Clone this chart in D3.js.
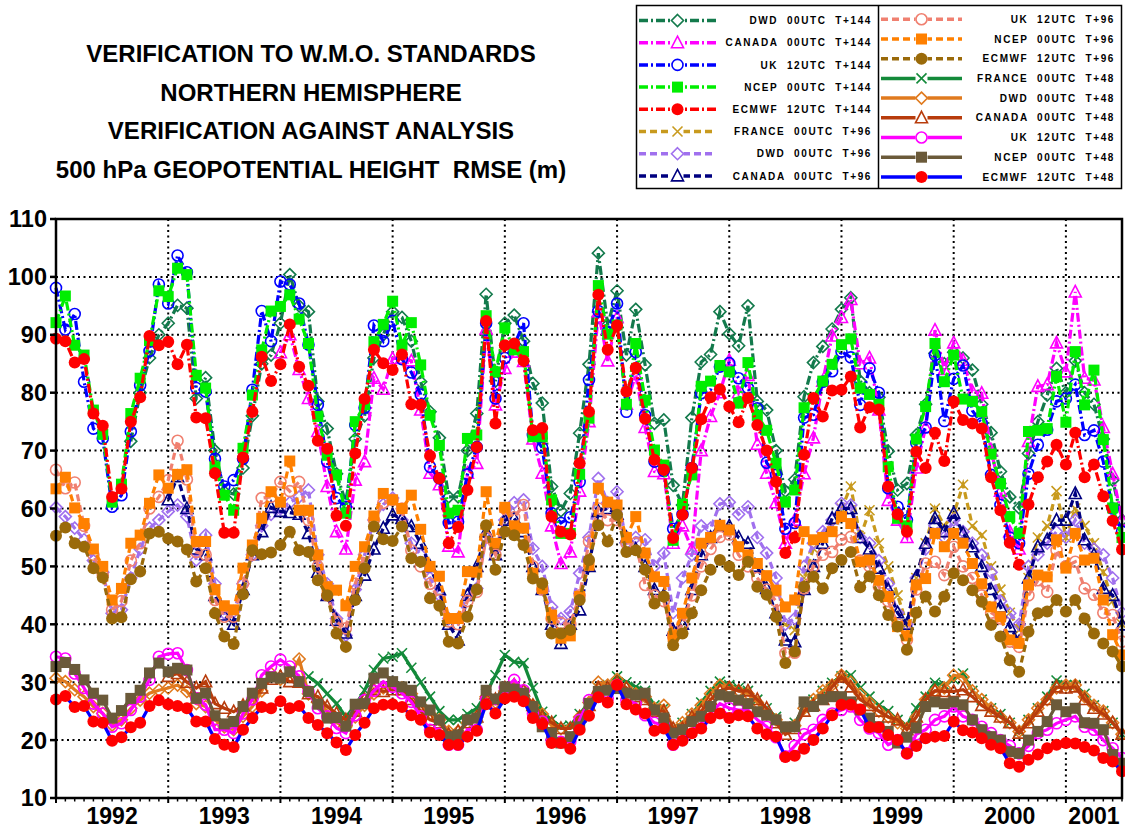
<!DOCTYPE html>
<html>
<head>
<meta charset="utf-8">
<title>Verification to W.M.O. standards - 500 hPa RMSE</title>
<script src="https://cdnjs.cloudflare.com/ajax/libs/d3/7.8.5/d3.min.js"></script>
<style>
  body { margin: 0; background: #fff; }
  text { font-family: "Liberation Sans", Arial, sans-serif; font-weight: bold; }
</style>
</head>
<body>
<div id="vis"></div>
<script>
// months counted from Jan 1992 (0) to Jul 2001 (114)
var nMonths = 115;
var years = [1992, 1993, 1994, 1995, 1996, 1997, 1998, 1999, 2000, 2001];
var yTicks = [10, 20, 30, 40, 50, 60, 70, 80, 90, 100, 110];
var titleLines = ["VERIFICATION TO W.M.O. STANDARDS", "NORTHERN HEMISPHERE",
  "VERIFICATION AGAINST ANALYSIS", "500 hPa GEOPOTENTIAL HEIGHT  RMSE (m)"];

// ---- T+144 ----
var dwdT144 = [ // from Sep 1992
  71.6,80.0,86.0,90.0,
  92.0,95.1,94.6,79.0,82.6,70.0,62.9,62.5,67.0,76.0,85.0,86.5,
  92.0,100.4,95.0,94.0,78.5,73.8,66.0,61.0,72.0,76.0,86.0,90.0,
  94.0,93.0,88.9,81.9,76.7,72.2,62.0,62.0,70.0,76.4,97.0,82.0,
  92.0,93.4,88.9,81.6,78.2,63.8,59.6,62.6,73.0,84.9,104.1,91.7,
  97.6,86.5,94.4,84.8,74.7,75.3,64.0,60.6,75.7,85.3,86.6,94.0,
  90.2,88.1,95.0,78.5,77.0,70.0,63.0,65.0,79.3,85.2,88.0,91.0,
  94.4,96.4,82.0,80.0,79.2,69.9,63.2,64.3,72.7,78.0,86.8,85.0,
  87.0,86.0,83.9,78.0,73.1,66.4,62.0,60.1,69.5,75.0,79.6,84.2,
  80.0,85.5,80.0,78.0,72.0,64.9,58.0];
var canadaT144 = [ // from Jan 1994
  86.9,90.0,84.0,79.0,73.3,63.8,56.0,53.0,64.9,68.1,82.5,80.6,
  85.9,86.0,85.5,77.0,66.1,64.1,53.5,52.5,66.1,67.8,91.0,77.9,
  84.2,87.0,85.4,72.0,66.1,57.0,50.5,52.5,63.0,75.0,94.0,85.5,
  93.0,78.0,83.1,74.0,66.4,66.0,54.0,57.0,53.0,70.0,75.9,80.0,
  85.6,80.0,83.0,71.1,66.1,61.0,54.0,58.0,66.0,72.2,82.0,89.8,
  93.0,96.1,85.0,86.0,77.0,61.4,58.0,55.0,67.0,74.0,90.8,84.0,
  88.6,85.6,80.2,79.9,70.0,63.0,56.0,53.0,71.6,81.1,81.4,88.6,
  83.6,97.4,82.5,82.2,74.0,66.0,58.0];
var ukT144 = [
  98.1,90.9,93.6,81.9,73.8,72.1,60.3,62.3,73.3,81.3,87.2,98.7,
  95.4,103.7,100.8,80.8,80.2,68.6,63.8,64.9,68.6,80.5,94.1,88.9,
  99.2,98.7,95.4,88.3,77.9,68.1,61.8,60.3,74.4,77.4,91.6,88.9,
  92.4,85.8,83.5,79.7,67.2,65.2,57.5,57.7,65.9,70.6,92.0,79.0,
  86.0,88.2,92.0,72.7,70.5,59.2,57.5,58.5,64.6,82.2,94.1,90.5,
  95.4,76.7,87.0,76.1,68.1,66.5,56.5,59.0,67.0,79.9,80.5,84.5,
  85.1,82.5,80.8,77.3,67.9,65.8,56.5,57.5,75.7,76.2,81.9,83.7,
  87.1,86.1,77.9,84.2,80.0,63.5,60.3,58.0,71.3,74.0,86.5,75.1,
  82.4,84.7,76.9,74.7,65.8,60.6,55.0,54.0,66.0,71.0,73.6,78.5,
  79.0,81.4,72.7,73.5,68.1,60.0,56.0];
var ncepT144 = [
  92.1,96.7,88.2,86.5,77.0,72.8,61.1,64.2,76.4,82.5,89.0,97.6,
  96.6,101.5,100.4,83.0,80.8,67.2,62.3,59.7,70.4,79.6,87.4,94.1,
  94.9,96.9,92.7,88.5,75.9,69.2,65.8,59.2,75.0,77.9,88.8,91.8,
  95.8,88.2,92.1,84.8,76.1,70.9,59.2,59.7,72.1,72.7,93.3,83.6,
  91.2,87.4,87.1,72.4,72.4,61.5,55.7,55.7,65.9,75.6,98.5,90.1,
  91.7,78.0,88.5,78.7,70.1,67.5,54.5,60.7,65.8,81.1,82.0,84.7,
  83.6,78.2,85.2,76.1,73.5,67.8,61.1,63.2,77.4,79.0,82.0,84.9,
  88.3,89.3,80.8,79.7,78.0,67.2,58.3,57.0,72.0,77.6,88.5,81.9,
  86.5,78.9,78.5,76.7,69.4,64.3,58.6,55.7,73.3,73.5,73.8,82.8,
  74.9,87.1,77.9,83.9,71.9,60.1,55.0];
var ecmwfT144 = [
  89.3,88.9,85.2,85.8,76.4,74.3,62.0,63.4,75.0,79.2,89.8,88.2,
  88.8,84.9,88.3,75.7,75.6,66.1,55.8,55.8,68.8,76.7,86.2,82.0,
  84.9,91.8,84.5,81.2,71.7,70.3,58.8,57.0,69.5,78.9,87.4,85.1,
  83.9,86.6,78.0,77.9,69.1,65.2,54.0,56.8,63.2,70.6,92.4,74.7,
  88.2,88.5,85.5,73.5,73.9,58.6,56.0,55.5,67.8,76.7,96.9,87.4,
  91.6,80.2,84.3,75.5,68.4,66.7,54.9,58.9,67.0,75.4,79.2,80.6,
  77.6,74.9,79.1,74.4,70.0,64.6,52.3,55.0,69.3,79.1,75.9,80.4,
  80.5,82.8,74.0,77.5,77.1,63.8,59.0,56.0,69.8,67.0,73.1,68.2,
  78.5,75.3,74.7,73.8,65.4,59.7,54.1,50.3,60.7,65.4,68.1,71.0,
  67.6,73.1,65.4,67.6,62.1,57.9,52.9];

// ---- T+96 ----
var franceT96 = [ // from Jul 1998
  40.0,39.0,48.0,53.1,55.0,57.0,
  60.0,63.8,55.0,59.7,54.0,50.0,45.0,40.0,48.0,54.0,60.0,57.0,
  59.0,64.1,57.0,55.4,50.0,46.0,42.0,39.0,48.0,55.0,57.0,63.0,
  55.0,60.0,57.0,54.0,49.0,44.0,40.0];
var dwdT96 = [
  60.2,58.6,56.6,54.6,51.0,49.0,41.9,42.5,48.0,53.0,56.6,58.0,
  59.5,60.6,58.6,51.1,55.4,47.0,41.9,42.2,47.0,52.0,57.0,59.0,
  60.0,61.0,62.0,63.2,52.0,47.0,41.0,38.1,46.0,52.0,58.0,60.7,
  61.8,58.0,54.0,52.0,48.0,45.0,41.0,41.0,45.0,46.2,55.0,53.0,
  58.0,61.0,61.5,53.1,50.0,43.0,41.0,42.2,48.8,55.0,65.2,61.0,
  62.9,54.0,55.0,54.6,50.0,52.3,42.0,48.0,52.0,57.0,56.6,60.8,
  61.1,59.0,60.3,55.0,52.3,48.0,40.0,41.0,50.0,54.0,56.0,58.0,
  60.9,60.6,55.0,54.0,51.0,47.0,42.0,40.0,48.0,53.0,57.0,55.0,
  58.0,56.0,54.0,52.0,49.0,44.0,41.9,40.0,50.0,52.0,54.0,56.0,
  55.0,58.0,54.0,53.0,52.0,48.0,42.0];
var canadaT96 = [ // from Jan 1993
  61.5,65.5,60.0,53.0,52.0,45.0,41.6,40.0,46.0,52.0,56.0,60.2,
  59.5,59.3,59.0,55.7,49.0,45.0,40.7,38.5,45.0,48.5,53.0,56.6,
  58.9,58.3,56.9,54.0,50.0,46.0,40.0,37.3,45.0,50.0,56.0,52.0,
  58.0,58.3,56.0,50.0,46.0,40.0,36.7,40.0,42.5,50.0,59.5,60.0,
  59.0,55.0,53.0,50.0,46.0,45.0,39.0,40.0,46.0,52.0,55.0,57.0,
  57.0,55.0,54.0,50.0,46.2,42.0,37.3,37.0,46.0,50.0,54.0,58.3,
  60.0,60.0,55.0,53.0,49.7,46.0,42.0,40.0,48.2,54.0,58.3,56.0,
  59.2,55.7,53.4,50.0,46.0,43.0,39.6,37.0,48.0,53.4,54.6,58.0,
  58.0,62.6,54.6,52.0,46.2,45.0,39.9];
var ukT96 = [
  66.7,63.5,64.5,57.0,52.0,48.5,42.5,44.0,51.0,54.0,60.0,62.0,
  64.9,71.7,65.0,52.5,52.0,44.2,41.3,41.3,47.0,52.0,61.8,62.0,
  64.6,63.0,64.6,58.0,50.0,45.0,40.4,39.3,47.0,52.0,58.0,61.0,
  61.5,60.0,52.8,50.0,47.0,44.2,40.5,40.0,44.0,45.6,55.0,52.0,
  60.0,58.5,60.6,50.0,46.0,41.0,40.2,40.0,45.0,54.3,60.0,58.0,
  58.0,54.0,54.0,46.8,45.0,44.0,37.9,40.0,45.0,50.0,53.0,55.1,
  55.5,52.0,50.0,48.0,46.0,44.0,35.0,35.1,46.2,50.0,52.0,52.5,
  54.6,55.1,51.0,50.0,46.5,44.0,40.0,37.3,46.0,50.5,50.8,48.5,
  53.4,50.0,48.0,45.0,42.0,41.0,37.0,36.1,45.0,47.6,45.6,52.8,
  50.0,50.8,46.2,45.1,42.0,41.6,37.0];
var ncepT96 = [
  63.4,65.4,60.1,57.4,53.0,50.0,44.2,46.2,54.0,55.4,60.9,65.8,
  63.5,65.9,66.7,54.3,54.3,46.0,43.2,42.5,49.7,53.7,58.3,62.9,
  61.1,68.2,59.7,59.7,52.0,46.5,45.9,43.2,50.0,53.4,58.7,62.6,
  61.5,60.0,62.3,56.4,50.0,48.3,41.0,41.0,49.1,49.0,62.9,54.0,
  60.2,57.0,56.6,48.8,46.2,41.6,37.6,38.0,44.8,50.2,63.5,61.1,
  60.6,55.0,58.6,52.3,48.2,47.4,37.9,41.9,48.0,54.0,55.0,57.1,
  56.3,53.4,52.0,50.5,48.4,45.9,43.0,44.2,56.0,54.6,55.0,56.0,
  58.6,57.4,50.8,51.1,47.6,44.8,39.6,38.0,46.8,47.9,55.7,53.4,
  55.7,54.0,50.5,47.0,43.0,41.3,37.3,36.7,46.8,48.5,48.2,54.6,
  49.7,55.7,51.1,51.4,44.2,38.2,34.7];
var ecmwfT96 = [
  55.3,56.7,54.0,53.4,49.7,48.1,41.0,41.2,47.8,49.1,55.7,56.0,
  54.8,54.3,52.9,47.4,49.7,41.9,37.9,36.6,45.2,52.8,52.1,52.4,
  53.7,56.0,52.8,52.5,47.6,45.0,38.4,36.1,44.2,49.7,56.9,54.7,
  54.4,56.9,51.4,50.8,44.5,43.2,37.0,36.7,41.3,46.0,57.1,49.4,
  56.0,55.4,53.7,47.9,47.1,38.4,38.4,39.0,44.2,51.1,57.1,54.3,
  58.9,52.5,52.8,49.4,43.6,44.8,36.4,38.4,41.9,45.9,49.4,51.1,
  50.0,48.5,50.8,46.5,45.1,41.3,33.3,35.3,46.5,48.2,46.2,49.7,
  51.1,52.5,46.4,48.3,45.0,41.6,39.6,35.6,42.0,44.8,42.2,44.8,
  48.8,47.6,45.9,43.9,39.9,37.9,33.8,31.8,38.7,41.9,42.2,44.2,
  42.2,44.2,41.0,38.4,36.7,35.3,32.7];

// ---- T+48 ----
var franceT48 = [ // from Apr 1994
  31.0,29.8,28.0,26.3,24.0,26.0,28.6,32.1,34.1,
  34.4,35.0,32.5,30.0,27.5,25.0,23.5,23.5,24.5,25.5,28.0,31.2,
  34.7,33.5,33.3,29.0,24.9,23.5,22.3,22.5,24.5,26.5,29.0,29.5,
  31.0,30.0,29.2,28.5,26.0,25.5,22.0,23.0,24.5,26.5,28.5,30.1,
  29.5,29.0,28.5,27.0,25.5,24.0,22.0,23.0,25.5,27.0,28.5,29.9,
  31.0,31.2,29.0,27.5,26.0,25.0,23.5,22.5,25.5,27.5,29.9,29.5,
  30.5,31.5,28.5,27.0,25.5,24.5,23.0,21.5,23.5,25.5,27.5,30.3,
  29.5,29.5,28.0,26.0,25.0,23.0,21.0];
var dwdT48 = [
  30.7,30.1,28.7,27.5,25.8,24.6,22.6,23.5,25.5,26.9,28.1,28.6,
  29.0,29.5,28.4,26.3,25.8,23.5,22.3,21.8,24.1,25.8,28.5,31.5,
  30.5,31.0,34.0,28.0,26.5,25.0,23.0,22.3,24.0,26.0,28.0,29.0,
  29.5,29.0,28.0,26.0,24.5,23.5,21.5,21.5,23.0,24.0,27.5,26.5,
  28.5,29.0,28.5,26.0,24.5,22.5,22.0,22.0,24.0,26.5,30.0,29.5,
  30.5,29.0,28.0,27.5,25.5,26.0,22.0,23.0,24.5,26.0,28.0,29.5,
  29.0,28.5,28.0,26.5,24.5,23.5,22.0,22.5,25.5,27.0,28.5,29.5,
  31.2,30.0,28.0,26.5,25.0,24.0,23.0,22.0,24.0,27.0,28.5,29.0,
  31.2,30.9,28.5,27.0,25.5,24.0,23.0,21.5,23.5,25.5,27.0,29.0,
  29.5,29.5,27.5,26.0,25.0,23.0,21.0];
var canadaT48 = [ // from Jan 1993
  31.0,31.5,30.0,29.0,30.1,26.3,25.5,24.9,26.0,27.0,29.0,30.5,
  31.0,30.1,30.0,28.0,27.5,25.8,24.6,23.5,25.0,27.0,28.7,28.4,
  28.7,28.7,27.0,25.0,23.5,23.0,21.0,21.5,23.0,24.0,28.0,27.0,
  29.0,29.5,28.5,26.0,24.0,23.0,22.0,22.0,24.0,26.0,29.0,29.0,
  30.0,29.0,27.5,27.0,25.0,25.0,22.0,22.0,24.0,25.0,27.0,28.5,
  29.0,28.5,28.5,27.0,25.5,23.0,21.0,22.0,25.0,26.0,27.0,29.2,
  30.9,29.2,27.0,26.0,25.0,24.0,23.5,21.8,24.0,27.0,28.5,28.4,
  28.4,28.7,27.5,26.0,25.0,24.0,23.0,21.2,23.0,25.0,27.0,29.2,
  29.0,29.2,27.0,25.5,24.5,23.0,21.0];
var ukT48 = [
  34.4,34.1,31.5,29.0,26.3,24.6,22.3,22.9,25.2,27.5,30.4,34.4,
  34.9,35.0,32.1,27.2,26.1,21.8,21.8,21.2,24.6,27.0,31.2,32.7,
  33.9,32.7,31.0,28.4,25.5,24.1,22.1,21.2,24.3,26.9,28.5,30.1,
  29.2,28.1,26.6,24.1,21.8,21.9,19.2,19.2,21.8,21.8,27.0,26.3,
  29.0,30.4,28.6,24.6,23.2,20.0,19.7,19.7,23.5,26.9,27.5,27.2,
  29.5,26.9,26.3,24.3,23.0,22.6,19.2,20.2,21.8,22.9,24.6,26.3,
  25.5,25.2,25.2,23.5,22.3,20.5,17.2,19.0,21.0,21.8,23.5,24.6,
  25.2,25.8,23.5,22.0,21.2,19.2,20.0,17.7,21.0,21.8,23.5,24.1,
  25.8,24.1,23.5,22.3,21.2,20.0,19.0,17.7,19.0,21.2,21.8,22.9,
  23.5,24.1,22.3,21.8,20.0,18.6,16.9];
var ncepT48 = [
  32.7,33.4,32.2,30.4,28.1,26.9,23.8,25.1,27.2,28.6,31.6,33.3,
  31.8,32.4,32.1,27.2,28.1,24.2,22.8,23.2,25.8,28.1,29.8,30.9,
  30.7,31.8,30.1,28.4,26.2,23.8,23.9,22.4,26.2,26.3,30.7,31.6,
  30.1,29.2,28.6,26.6,25.2,23.5,20.6,20.9,23.5,23.8,28.6,27.1,
  29.2,28.8,28.1,25.8,22.3,21.2,19.5,20.6,22.3,26.3,28.4,28.6,
  28.9,28.1,27.8,28.1,25.2,23.8,21.2,21.8,23.2,24.1,25.8,27.8,
  27.5,26.9,26.3,24.9,24.3,23.5,22.3,22.3,26.6,25.8,27.0,27.5,
  27.5,26.6,25.2,23.8,22.3,21.5,19.5,20.5,22.1,25.8,26.6,26.3,
  26.6,26.1,23.5,21.8,20.6,20.0,18.0,17.7,20.0,21.5,23.2,26.1,
  24.9,25.5,23.0,22.9,21.8,17.5,16.0];
var ecmwfT48 = [
  27.0,27.6,25.7,25.9,23.2,23.0,19.9,20.5,22.2,23.0,25.9,26.9,
  26.2,25.9,25.5,23.2,23.2,20.2,19.2,18.8,21.8,23.8,25.7,25.5,
  26.7,25.5,25.9,23.8,22.6,21.2,19.6,18.3,20.9,23.0,25.5,26.1,
  26.2,25.7,24.3,23.5,21.3,20.9,19.2,19.2,20.6,21.6,26.2,24.6,
  27.2,27.5,26.7,23.8,22.8,19.5,19.5,18.5,21.8,24.2,27.4,26.5,
  29.5,26.2,25.3,24.6,21.6,22.0,19.2,19.9,21.2,22.0,23.8,24.6,
  23.8,24.3,24.1,22.0,21.0,20.6,17.1,17.3,18.5,20.0,22.0,24.3,
  26.1,26.1,25.3,22.2,22.2,20.9,20.0,17.7,19.0,20.3,20.6,20.7,
  23.2,21.7,21.3,20.3,19.2,18.6,16.0,15.4,16.6,17.5,18.6,19.2,
  19.5,19.4,18.8,18.2,16.9,16.3,14.6];

// legend order = drawing order
var series = [
  {centre:"DWD",    run:"00UTC", lead:"T+144", start:8,  values:dwdT144,    color:"#137a4c", dash:"dashdot", marker:"diamond",  filled:false},
  {centre:"CANADA", run:"00UTC", lead:"T+144", start:24, values:canadaT144, color:"#ff00ff", dash:"dashdot", marker:"triangle", filled:false},
  {centre:"UK",     run:"12UTC", lead:"T+144", start:0,  values:ukT144,     color:"#0000ff", dash:"dashdot", marker:"circle",   filled:false},
  {centre:"NCEP",   run:"00UTC", lead:"T+144", start:0,  values:ncepT144,   color:"#00ee00", dash:"dashdot", marker:"square",   filled:true},
  {centre:"ECMWF",  run:"12UTC", lead:"T+144", start:0,  values:ecmwfT144,  color:"#ff0000", dash:"dashdot", marker:"dot",      filled:true},
  {centre:"FRANCE", run:"00UTC", lead:"T+96",  start:78, values:franceT96,  color:"#c89a1e", dash:"dash",    marker:"cross",    filled:false},
  {centre:"DWD",    run:"00UTC", lead:"T+96",  start:0,  values:dwdT96,     color:"#a070ee", dash:"dash",    marker:"diamond",  filled:false},
  {centre:"CANADA", run:"00UTC", lead:"T+96",  start:12, values:canadaT96,  color:"#000080", dash:"dash",    marker:"triangle", filled:false},
  {centre:"UK",     run:"12UTC", lead:"T+96",  start:0,  values:ukT96,      color:"#f08070", dash:"dash",    marker:"circle",   filled:false},
  {centre:"NCEP",   run:"00UTC", lead:"T+96",  start:0,  values:ncepT96,    color:"#ff8000", dash:"dash",    marker:"square",   filled:true},
  {centre:"ECMWF",  run:"12UTC", lead:"T+96",  start:0,  values:ecmwfT96,   color:"#9a6a0a", dash:"dash",    marker:"dot",      filled:true},
  {centre:"FRANCE", run:"00UTC", lead:"T+48",  start:27, values:franceT48,  color:"#138a3a", dash:"solid",   marker:"cross",    filled:false},
  {centre:"DWD",    run:"00UTC", lead:"T+48",  start:0,  values:dwdT48,     color:"#e07a1e", dash:"solid",   marker:"diamond",  filled:false},
  {centre:"CANADA", run:"00UTC", lead:"T+48",  start:12, values:canadaT48,  color:"#b83c0c", dash:"solid",   marker:"triangle", filled:false},
  {centre:"UK",     run:"12UTC", lead:"T+48",  start:0,  values:ukT48,      color:"#ff00ff", dash:"solid",   marker:"circle",   filled:false},
  {centre:"NCEP",   run:"00UTC", lead:"T+48",  start:0,  values:ncepT48,    color:"#6b5a3a", dash:"solid",   marker:"square",   filled:true},
  {centre:"ECMWF",  run:"12UTC", lead:"T+48",  start:0,  values:ecmwfT48,   color:"#0000ff", markerColor:"#ff0000", dash:"solid", marker:"dot", filled:true}
];

var W = 1125, H = 832;
var plotL = 56, plotR = 1122, plotT = 219, plotB = 798;

var svg = d3.select("#vis").append("svg")
  .attr("width", W).attr("height", H);

var x = d3.scaleLinear().domain([0, nMonths - 1]).range([plotL, plotR]);
var y = d3.scaleLinear().domain([10, 110]).range([plotB, plotT]);

var dashes = {dashdot: "9,3,2,3", dash: "7,4", solid: null};

function addMarker(g, type, color, filled) {
  if (type == "dot") {
    g.append("circle").attr("r", 6).attr("fill", color);
  } else if (type == "circle") {
    g.append("circle").attr("r", 5.5).attr("fill", "none").attr("stroke", color).attr("stroke-width", 1.6);
  } else if (type == "square") {
    g.append("rect").attr("x", -5.5).attr("y", -5.5).attr("width", 11).attr("height", 11).attr("fill", color);
  } else if (type == "diamond") {
    g.append("path").attr("d", "M0,-6L6,0L0,6L-6,0Z").attr("fill", "none").attr("stroke", color).attr("stroke-width", 1.6);
  } else if (type == "triangle") {
    g.append("path").attr("d", "M0,-6.5L6,5L-6,5Z").attr("fill", "none").attr("stroke", color).attr("stroke-width", 1.6);
  } else if (type == "cross") {
    g.append("path").attr("d", "M-5,-5L5,5M-5,5L5,-5").attr("stroke", color).attr("stroke-width", 1.6);
  }
}

// ---- grid ----
var grid = svg.append("g");
grid.selectAll("line.h").data(yTicks.slice(1, -1)).enter().append("line")
  .attr("x1", plotL).attr("x2", plotR)
  .attr("y1", function(d) { return y(d); }).attr("y2", function(d) { return y(d); })
  .attr("stroke", "#000").attr("stroke-width", 2).attr("stroke-dasharray", "2,3.5");
grid.selectAll("line.v").data(years.slice(1)).enter().append("line")
  .attr("x1", function(d, i) { return x((i + 1) * 12); }).attr("x2", function(d, i) { return x((i + 1) * 12); })
  .attr("y1", plotT).attr("y2", plotB)
  .attr("stroke", "#000").attr("stroke-width", 2).attr("stroke-dasharray", "2,3.5");

// ---- series ----
var line = d3.line()
  .x(function(d) { return x(d.m); })
  .y(function(d) { return y(d.v); });

series.forEach(function(s) {
  var pts = s.values.map(function(v, i) { return {m: s.start + i, v: v}; });
  var g = svg.append("g");
  g.append("path").datum(pts)
    .attr("d", line)
    .attr("fill", "none")
    .attr("stroke", s.color)
    .attr("stroke-width", 3.2)
    .attr("stroke-dasharray", dashes[s.dash]);
  g.selectAll("g.mk").data(pts).enter().append("g")
    .attr("transform", function(d) { return "translate(" + x(d.m) + "," + y(d.v) + ")"; })
    .each(function() { addMarker(d3.select(this), s.marker, s.markerColor || s.color, s.filled); });
});

// ---- frame & axes ----
svg.append("rect").attr("x", plotL).attr("y", plotT)
  .attr("width", plotR - plotL).attr("height", plotB - plotT)
  .attr("fill", "none").attr("stroke", "#000").attr("stroke-width", 2.5);

svg.selectAll("line.yt").data(yTicks).enter().append("line")
  .attr("x1", plotL - 6).attr("x2", plotL)
  .attr("y1", function(d) { return y(d); }).attr("y2", function(d) { return y(d); })
  .attr("stroke", "#000").attr("stroke-width", 2.5);
svg.selectAll("text.yl").data(yTicks).enter().append("text")
  .attr("x", 47).attr("y", function(d) { return y(d); })
  .attr("dy", "0.36em").attr("text-anchor", "end")
  .style("font-size", "23.5px")
  .text(function(d) { return d; });

svg.selectAll("line.xt").data(d3.range(nMonths)).enter().append("line")
  .attr("x1", function(d) { return x(d); }).attr("x2", function(d) { return x(d); })
  .attr("y1", plotB).attr("y2", function(d) { return d % 12 == 0 ? plotB + 5 : plotB + 3.5; })
  .attr("stroke", "#000").attr("stroke-width", function(d) { return d % 12 == 0 ? 2 : 1.5; });
svg.selectAll("text.xl").data(years).enter().append("text")
  .attr("x", function(d, i) {
    var a = i * 12, b = Math.min(a + 12, nMonths - 1);
    return (x(a) + x(b)) / 2;
  })
  .attr("y", 824).attr("text-anchor", "middle")
  .style("font-size", "23px")
  .text(function(d) { return d; });

// ---- title ----
svg.selectAll("text.title").data(titleLines).enter().append("text")
  .attr("x", 311).attr("y", function(d, i) { return 62 + i * 38.5; })
  .attr("text-anchor", "middle")
  .style("font-size", "24px").style("white-space", "pre")
  .text(function(d) { return d; });

// ---- legend ----
var leg = svg.append("g");
leg.append("rect").attr("x", 636.5).attr("y", 5.5).attr("width", 485).attr("height", 183)
  .attr("fill", "#fff").attr("stroke", "#000").attr("stroke-width", 1.5);
leg.append("line").attr("x1", 878.5).attr("x2", 878.5).attr("y1", 5.5).attr("y2", 188.5)
  .attr("stroke", "#000").attr("stroke-width", 1.5);

var boxes = [
  {items: series.slice(0, 8), x0: 639, x1: 716, textX: 872, rowY: 20.5, step: 22.2},
  {items: series.slice(8),    x0: 881, x1: 962, textX: 1115, rowY: 19.3, step: 19.7}
];
boxes.forEach(function(b) {
  b.items.forEach(function(s, i) {
    var ry = b.rowY + i * b.step;
    leg.append("line").attr("x1", b.x0).attr("x2", b.x1).attr("y1", ry).attr("y2", ry)
      .attr("stroke", s.color).attr("stroke-width", 3.5)
      .attr("stroke-dasharray", dashes[s.dash]);
    var mg = leg.append("g").attr("transform", "translate(" + ((b.x0 + b.x1) / 2) + "," + ry + ")");
    mg.append("rect").attr("x", -6).attr("y", -6).attr("width", 12).attr("height", 12).attr("fill", "#fff");
    addMarker(mg, s.marker, s.markerColor || s.color, s.filled);
    leg.append("text").attr("x", b.textX).attr("y", ry).attr("dy", "0.36em")
      .attr("text-anchor", "end")
      .style("font-size", "10px").style("letter-spacing", "1.6px").style("white-space", "pre")
      .text(s.centre + "  " + s.run + "  " + s.lead);
  });
});
</script>
</body>
</html>
